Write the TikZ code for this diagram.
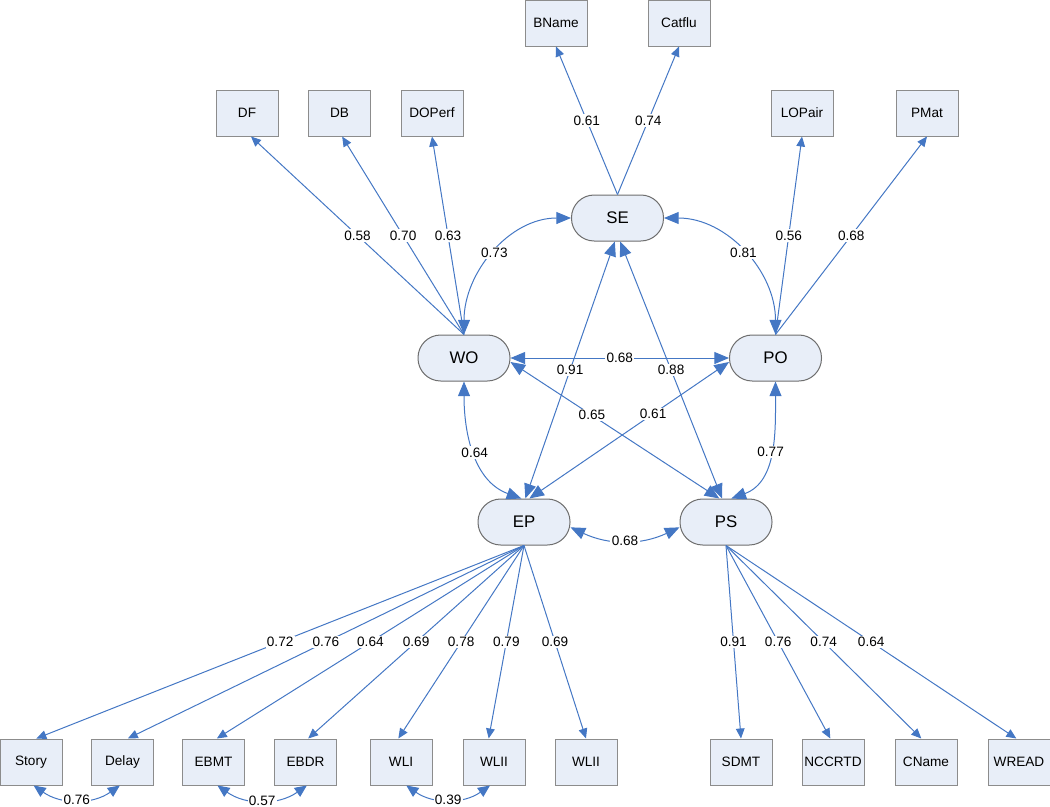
\documentclass[tikz,border=0pt]{standalone}
\usepackage{fontspec}
\setmainfont{Liberation Sans}
\usetikzlibrary{arrows.meta}
\definecolor{lnblue}{RGB}{68,119,196}
\definecolor{boxfill}{RGB}{232,238,248}
\definecolor{boxline}{RGB}{140,140,140}
\definecolor{latline}{RGB}{110,110,110}
\begin{document}
\begin{tikzpicture}[x=0.75pt,y=-0.75pt,
  obs/.style={draw=boxline, fill=boxfill, line width=0.75pt, minimum width=46.5pt, minimum height=34.5pt, inner sep=0pt, font=\fontsize{10.2}{12}\selectfont},
  lat/.style={draw=latline, fill=boxfill, line width=0.75pt, rounded corners=17pt, minimum width=69pt, minimum height=34.5pt, inner sep=0pt, font=\fontsize{12.6}{14}\selectfont},
  load/.style={draw=lnblue, line width=0.75pt, -{Triangle[length=7.5pt,width=6.5pt]}},
  corr/.style={draw=lnblue, line width=0.75pt, {Triangle[length=11pt,width=9pt]}-{Triangle[length=11pt,width=9pt]}},
  rcorr/.style={draw=lnblue, line width=0.75pt, {Triangle[length=9pt,width=8pt]}-{Triangle[length=9pt,width=8pt]}},
  lbl/.style={fill=white, inner sep=1pt, font=\fontsize{10.2}{12}\selectfont}
]
\useasboundingbox (0,0) rectangle (1050,807);

% observed boxes
\node[obs] (BName)  at (556,23)  {BName};
\node[obs] (Catflu) at (679,23)  {Catflu};
\node[obs] (DF)     at (247,113) {DF};
\node[obs] (DB)     at (339.5,113) {DB};
\node[obs] (DOPerf) at (432,113) {DOPerf};
\node[obs] (LOPair) at (802,113) {LOPair};
\node[obs] (PMat)   at (927,113) {PMat};

\node[obs] (Story)  at (31,762)   {Story};
\node[obs] (Delay)  at (122.5,762) {Delay};
\node[obs] (EBMT)   at (213.5,762) {EBMT};
\node[obs] (EBDR)   at (305.5,762) {EBDR};
\node[obs] (WLI)    at (401,762)  {WLI};
\node[obs] (WLIIa)  at (494,762)  {WLII};
\node[obs] (WLIIb)  at (586,762)  {WLII};
\node[obs] (SDMT)   at (741,762)  {SDMT};
\node[obs] (NCCRTD) at (833,762)  {NCCRTD};
\node[obs] (CName)  at (926,762)  {CName};
\node[obs] (WREAD)  at (1019,762) {WREAD};

% latent factors
\node[lat] (SE) at (617.5,218) {SE};
\node[lat] (WO) at (464,358)   {WO};
\node[lat] (PO) at (775.5,358) {PO};
\node[lat] (EP) at (524,522)   {EP};
\node[lat] (PS) at (726,522)   {PS};

% loadings
\draw[load] (SE.north) -- node[lbl]{0.61} (BName.south);
\draw[load] (SE.north) -- node[lbl]{0.74} (Catflu.south);
\draw[load] (WO.north) -- node[lbl]{0.58} ([xshift=3pt]DF.south);
\draw[load] (WO.north) -- node[lbl]{0.70} ([xshift=2pt]DB.south);
\draw[load] (WO.north) -- node[lbl]{0.63} (DOPerf.south);
\draw[load] (PO.north) -- node[lbl]{0.56} (LOPair.south);
\draw[load] (PO.north) -- node[lbl]{0.68} (PMat.south);

\draw[load] (EP.south) -- node[lbl]{0.72} ([xshift=4pt]Story.north);
\draw[load] (EP.south) -- node[lbl]{0.76} ([xshift=4pt]Delay.north);
\draw[load] (EP.south) -- node[lbl]{0.64} ([xshift=2.5pt]EBMT.north);
\draw[load] (EP.south) -- node[lbl]{0.69} ([xshift=2pt]EBDR.north);
\draw[load] (EP.south) -- node[lbl]{0.78} ([xshift=-2pt]WLI.north);
\draw[load] (EP.south) -- node[lbl]{0.79} ([xshift=-4pt]WLIIa.north);
\draw[load] (EP.south) -- node[lbl]{0.69} (WLIIb.north);
\draw[load] (PS.south) -- node[lbl]{0.91} (SDMT.north);
\draw[load] (PS.south) -- node[lbl]{0.76} ([xshift=-2pt]NCCRTD.north);
\draw[load] (PS.south) -- node[lbl]{0.74} ([xshift=-3.5pt]CName.north);
\draw[load] (PS.south) -- node[lbl]{0.64} ([xshift=-2pt]WREAD.north);

% factor correlations
\draw[corr] (WO.north) to[out=90,in=180] node[lbl]{0.73} (SE.west);
\draw[corr] (SE.east) to[out=0,in=90] node[lbl]{0.81} (PO.north);
\draw[corr] (WO.south) to[out=-90,in=160] node[lbl]{0.64} ([xshift=-2pt]EP.north);
\draw[corr] (PO.south) to[out=-90,in=20] node[lbl]{0.77} ([xshift=4pt]PS.north);
\draw[corr] ([yshift=-4pt]EP.east) to[out=-25,in=-155] node[lbl]{0.68} ([yshift=-4pt]PS.west);
\draw[corr] (WO.east) -- node[lbl]{0.68} (PO.west);
\draw[corr] ([xshift=-2pt]SE.south) -- node[lbl]{0.91} ([xshift=1pt]EP.north);
\draw[corr] ([xshift=2pt]SE.south) -- node[lbl]{0.88} ([xshift=-3pt]PS.north);
\draw[corr] ([yshift=-3pt]WO.east) -- node[lbl,pos=0.39]{0.65} ([xshift=-5pt]PS.north);
\draw[corr] ([yshift=-3pt]PO.west) -- node[lbl,pos=0.38]{0.61} ([xshift=4pt]EP.north);

% residual correlations
\draw[rcorr] ([xshift=2pt]Story.south) to[out=-35,in=-145] node[lbl]{0.76} ([xshift=-2pt]Delay.south);
\draw[rcorr] ([xshift=3pt]EBMT.south) to[out=-35,in=-145] node[lbl]{0.57} ([xshift=1pt]EBDR.south);
\draw[rcorr] ([xshift=4pt]WLI.south) to[out=-35,in=-145] node[lbl]{0.39} ([xshift=-3pt]WLIIa.south);
\end{tikzpicture}
\end{document}
